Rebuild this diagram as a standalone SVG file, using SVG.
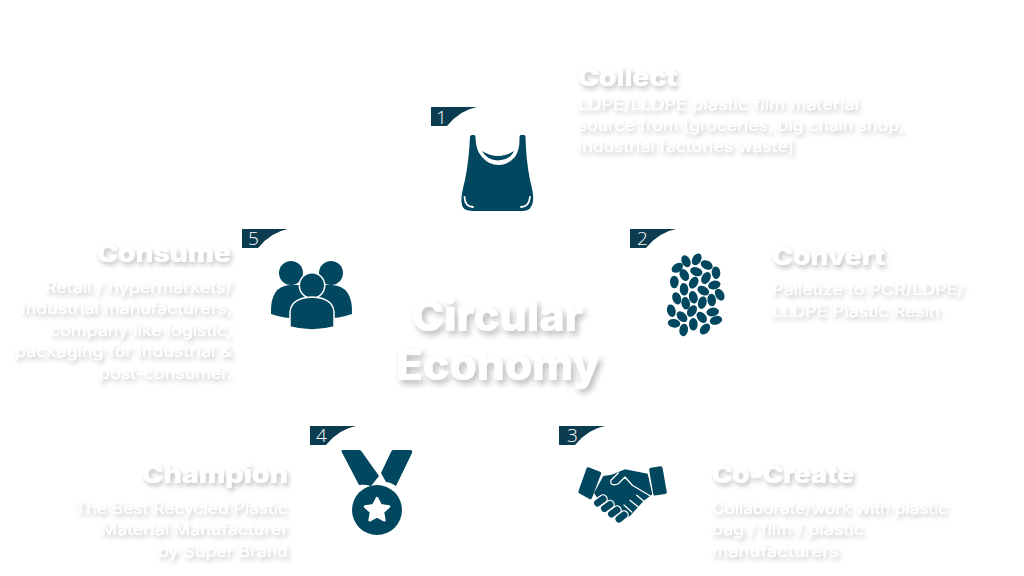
<svg xmlns="http://www.w3.org/2000/svg" width="1024" height="576" viewBox="0 0 1024 576">
<defs>
<filter id="sh" x="-20%" y="-50%" width="140%" height="220%"><feGaussianBlur in="SourceAlpha" stdDeviation="2.800"/><feOffset dx="2" dy="3"/><feComponentTransfer result="s"><feFuncA type="linear" slope="0.26"/></feComponentTransfer><feGaussianBlur in="SourceGraphic" stdDeviation="0.5" result="g"/><feMerge><feMergeNode in="s"/><feMergeNode in="g"/></feMerge></filter>
<filter id="shT" x="-20%" y="-40%" width="140%" height="190%"><feGaussianBlur in="SourceAlpha" stdDeviation="3.200"/><feOffset dx="3" dy="4"/><feComponentTransfer result="s"><feFuncA type="linear" slope="0.28"/></feComponentTransfer><feGaussianBlur in="SourceGraphic" stdDeviation="0.6" result="g"/><feMerge><feMergeNode in="s"/><feMergeNode in="g"/></feMerge></filter>
<filter id="soft" x="-5%" y="-5%" width="110%" height="110%"><feGaussianBlur stdDeviation="0.4"/></filter>
<path id="badge" d="M0,0H46Q29,3 16,19H0Z"/>
</defs>
<style>
text{font-family:Inter,"Open Sans","Liberation Sans",sans-serif;fill:#fff}
.t{font-size:25px;font-weight:800;filter:url(#sh)}
.d{font-size:16px;font-weight:400;filter:url(#sh)}
.c{font-size:43px;font-weight:800;filter:url(#shT)}
.e{text-anchor:end}
.n{font-family:"Open Sans","Liberation Sans",sans-serif;font-size:19px;font-weight:300}
.b{fill:#0b3c4f}
.i{fill:#00475f}
.w{fill:none;stroke:#fff;stroke-linecap:round;stroke-linejoin:round}
.ic{filter:url(#soft)}
</style>
<rect width="1024" height="576" fill="#fff"/>
<g id="center">
<text class="c" x="412" y="331" textLength="171" lengthAdjust="spacingAndGlyphs">Circular</text>
<text class="c" x="396" y="380" textLength="204" lengthAdjust="spacingAndGlyphs">Economy</text>
</g>
<g id="node-1">
<use href="#badge" class="b" x="431" y="107"/>
<text class="n" x="436" y="124">1</text>
<g class="ic">
<path class="i" d="M470,137Q470,135 472,135H474Q475.500,135 475.500,137Q475.500,150 482,157Q489,165 498.500,165Q508,165 515,157Q520,150 519.500,137Q519.500,135 521,135H524Q525.500,135 525.500,137Q526,160 530,180Q534,195 533,201Q532,211 522,211H472Q461,211 461.500,201Q461,195 465,180Q469,160 470,137Z"/>
<path class="i" d="M482,151Q498,161 514,151Q510,160 498,160.500Q487,160 482,151Z"/>
<path class="w" stroke-width="1.800" d="M464.500,197Q465,207 473,207M530,197Q529,207 521,207"/>
</g>
<text class="t" x="578" y="86" textLength="99" lengthAdjust="spacingAndGlyphs">Collect</text>
<text class="d" x="578" y="110" textLength="281" lengthAdjust="spacingAndGlyphs">LDPE/LLDPE plastic film material</text>
<text class="d" x="578" y="131" textLength="326" lengthAdjust="spacingAndGlyphs">source from [groceries, big chain shop,</text>
<text class="d" x="578" y="152" textLength="216" lengthAdjust="spacingAndGlyphs">industrial factories waste]</text>
</g>
<g id="node-2">
<use href="#badge" class="b" x="630" y="229"/>
<text class="n" x="637" y="245">2</text>
<g class="i ic">
<ellipse cx="677.300" cy="267.700" rx="6.300" ry="4.300" transform="rotate(-35 677.300 267.700)"/>
<ellipse cx="686" cy="261.300" rx="6.300" ry="4.300" transform="rotate(65 686 261.300)"/>
<ellipse cx="696.700" cy="259.300" rx="6.300" ry="4.300" transform="rotate(-60 696.700 259.300)"/>
<ellipse cx="706.700" cy="265" rx="6.300" ry="4.300" transform="rotate(25 706.700 265)"/>
<ellipse cx="716" cy="272.700" rx="6.300" ry="4.300" transform="rotate(85 716 272.700)"/>
<ellipse cx="684.300" cy="275" rx="6.300" ry="4.300" transform="rotate(60 684.300 275)"/>
<ellipse cx="696.300" cy="271.700" rx="6.300" ry="4.300" transform="rotate(20 696.300 271.700)"/>
<ellipse cx="706" cy="278" rx="6.300" ry="4.300" transform="rotate(-60 706 278)"/>
<ellipse cx="714.300" cy="285" rx="6.300" ry="4.300" transform="rotate(-15 714.300 285)"/>
<ellipse cx="674.300" cy="282" rx="6.300" ry="4.300" transform="rotate(90 674.300 282)"/>
<ellipse cx="684" cy="289.300" rx="6.300" ry="4.300" transform="rotate(85 684 289.300)"/>
<ellipse cx="693.700" cy="282.700" rx="6.300" ry="4.300" transform="rotate(-60 693.700 282.700)"/>
<ellipse cx="703.300" cy="290.700" rx="6.300" ry="4.300" transform="rotate(30 703.300 290.700)"/>
<ellipse cx="719.700" cy="294.700" rx="6.300" ry="4.300" transform="rotate(60 719.700 294.700)"/>
<ellipse cx="676.700" cy="298.300" rx="6.300" ry="4.300" transform="rotate(70 676.700 298.300)"/>
<ellipse cx="685.700" cy="303.300" rx="6.300" ry="4.300" transform="rotate(80 685.700 303.300)"/>
<ellipse cx="693.300" cy="297.300" rx="6.300" ry="4.300" transform="rotate(75 693.300 297.300)"/>
<ellipse cx="702.300" cy="302.700" rx="6.300" ry="4.300" transform="rotate(-75 702.300 302.700)"/>
<ellipse cx="711.700" cy="300" rx="6.300" ry="4.300" transform="rotate(85 711.700 300)"/>
<ellipse cx="671.300" cy="310.700" rx="6.300" ry="4.300" transform="rotate(75 671.300 310.700)"/>
<ellipse cx="682" cy="316.700" rx="6.300" ry="4.300" transform="rotate(45 682 316.700)"/>
<ellipse cx="692" cy="311" rx="6.300" ry="4.300" transform="rotate(-55 692 311)"/>
<ellipse cx="701.700" cy="317.300" rx="6.300" ry="4.300" transform="rotate(50 701.700 317.300)"/>
<ellipse cx="712.700" cy="312" rx="6.300" ry="4.300" transform="rotate(-10 712.700 312)"/>
<ellipse cx="674" cy="323.300" rx="6.300" ry="4.300" transform="rotate(10 674 323.300)"/>
<ellipse cx="683.700" cy="330" rx="6.300" ry="4.300" transform="rotate(-80 683.700 330)"/>
<ellipse cx="693.300" cy="324.300" rx="6.300" ry="4.300" transform="rotate(90 693.300 324.300)"/>
<ellipse cx="705" cy="329" rx="6.300" ry="4.300" transform="rotate(-50 705 329)"/>
<ellipse cx="716" cy="320.300" rx="6.300" ry="4.300" transform="rotate(-15 716 320.300)"/>
</g>
<text class="t" x="772" y="265" textLength="113" lengthAdjust="spacingAndGlyphs">Convert</text>
<text class="d" x="772" y="295" textLength="192" lengthAdjust="spacingAndGlyphs">Palletize to PCR/LDPE/</text>
<text class="d" x="772" y="317" textLength="168" lengthAdjust="spacingAndGlyphs">LLDPE Plastic Resin</text>
</g>
<g id="node-3">
<use href="#badge" class="b" x="559" y="426"/>
<text class="n" x="567" y="442">3</text>
<g class="ic">
<path class="i" d="M588.500,467.300L600,471.700Q601.500,472.300 601,474L592,498Q591.300,499.800 589.500,499L579.500,493.500Q578,492.500 578.500,491L586.500,468.500Q587,466.700 588.500,467.300ZM651,467.800L660.500,466.200Q662.200,466 662.500,467.700L666.800,492Q667,493.700 665.300,494L655,495.500Q653.500,495.700 653.200,494L649.200,470Q649,468.100 651,467.800Z"/>
<path class="i" d="M603.300,476L611.700,474.700L625,469.300L647.700,473.700L652.300,494.300L643.300,501.300L630,516L622,520L598,499L594,493Z"/>
<path class="w" stroke-width="1.300" d="M618.300,473L611,480.300Q610,484.500 613.300,484.700Q616,485 618.300,483.700L625,477L632.300,485.300L650,495.800"/>
<path class="w" stroke-width="1.300" d="M636.700,495.300L646,503M630,500.300L638.300,507M624,505L631.700,512"/>
<g fill="none" stroke-linecap="round">
<path stroke="#fff" stroke-width="9.500" d="M597.500,503L603,499M604.500,508.500L610,504.500M611.500,514L617,510M619,519L624,515"/>
<path stroke="#00475f" stroke-width="7" d="M597.500,503L603,499M604.500,508.500L610,504.500M611.500,514L617,510M619,519L624,515"/>
</g>
</g>
<text class="t" x="712" y="483" textLength="142" lengthAdjust="spacingAndGlyphs">Co-Create</text>
<text class="d" x="712" y="514" textLength="236" lengthAdjust="spacingAndGlyphs">Collaborate/work with plastic</text>
<text class="d" x="712" y="535" textLength="152" lengthAdjust="spacingAndGlyphs">bag / film / plastic</text>
<text class="d" x="712" y="557" textLength="127" lengthAdjust="spacingAndGlyphs">manufacturers</text>
</g>
<g id="node-4">
<use href="#badge" class="b" x="310" y="426"/>
<text class="n" x="316" y="442">4</text>
<g class="ic">
<path class="i" d="M341.500,451.500Q341,450 343,450H359Q361,450 362,452L379,476L371,486Q364,484 359,485Z"/>
<path class="i" d="M393,450H410Q413,450 412,453L396,486Q390,482 386,482L381,473L391,452Q392,450 393,450Z"/>
<circle class="i" cx="377" cy="510" r="25"/>
<path fill="#fff" stroke="#fff" stroke-width="2.500" stroke-linejoin="round" d="M377,498L380.800,505.300L389,506.500L383,512.200L384.400,520.300L377,516.500L369.600,520.300L371,512.200L365,506.500L373.200,505.300Z"/>
</g>
<text class="t e" x="288" y="483" textLength="146" lengthAdjust="spacingAndGlyphs">Champion</text>
<text class="d e" x="288" y="514" textLength="213" lengthAdjust="spacingAndGlyphs">The Best Recycled Plastic</text>
<text class="d e" x="288" y="535" textLength="187" lengthAdjust="spacingAndGlyphs">Material Manufacturer</text>
<text class="d e" x="288" y="557" textLength="130" lengthAdjust="spacingAndGlyphs">by Super Brand</text>
</g>
<g id="node-5">
<use href="#badge" class="b" x="242" y="229"/>
<text class="n" x="248" y="245">5</text>
<g class="ic">
<circle class="i" cx="291" cy="273" r="12"/>
<circle class="i" cx="331" cy="273" r="12"/>
<path class="i" d="M271,314Q270,286 290,285H332Q353,286 352,314Q335,320 312,318Q288,320 271,314Z"/>
<circle class="i" cx="312" cy="285.500" r="12.700" stroke="#fff" stroke-width="1.500"/>
<path class="i" stroke="#fff" stroke-width="1.500" d="M290,327V312Q291,298 312,297Q333,298 334,312V327Q312,333 290,327Z"/>
</g>
<text class="t e" x="231" y="262" textLength="134" lengthAdjust="spacingAndGlyphs">Consume</text>
<text class="d e" x="232" y="293" textLength="187" lengthAdjust="spacingAndGlyphs">Retail / hypermarkets/</text>
<text class="d e" x="232" y="314" textLength="211" lengthAdjust="spacingAndGlyphs">Industrial manufacturers,</text>
<text class="d e" x="232" y="336" textLength="182" lengthAdjust="spacingAndGlyphs">company like logistic,</text>
<text class="d e" x="232" y="357" textLength="217" lengthAdjust="spacingAndGlyphs">packaging for industrial &amp;</text>
<text class="d e" x="232" y="379" textLength="133" lengthAdjust="spacingAndGlyphs">post-consumer.</text>
</g>
<g id="connectors"/>
</svg>
